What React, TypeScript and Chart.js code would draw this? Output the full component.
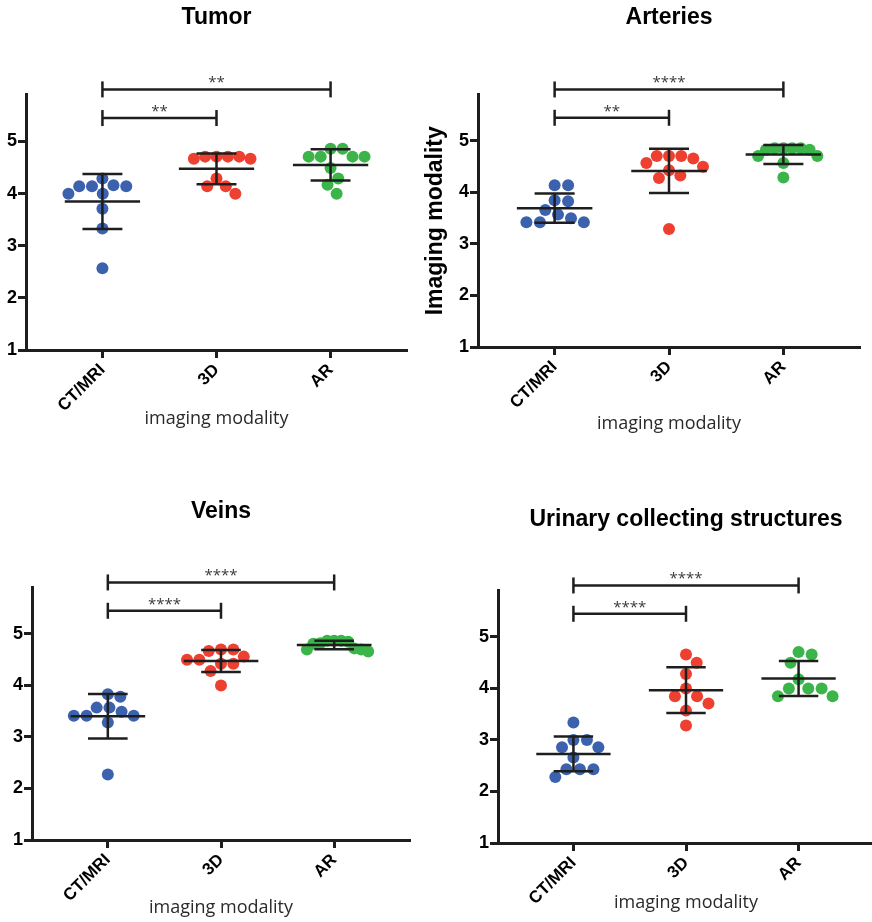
import React, { useEffect, useRef } from 'react';
import { Chart, registerables } from 'chart.js';

Chart.register(...registerables);

// ---------- data ----------
const categories = ['CT/MRI', '3D', 'AR'];
const yTickValues = [1, 2, 3, 4, 5];
const xAxisTitle = 'imaging modality';
const yAxisTitle = 'Imaging modality';

const tumorCT = [4.14, 4.0, 4.16, 4.14, 4.29, 4.0, 4.14, 3.71, 3.33, 2.57];
const tumor3D = [4.71, 4.71, 4.67, 4.67, 4.71, 4.71, 4.29, 4.14, 4.14, 4.0];
const tumorAR = [4.71, 4.71, 4.86, 4.86, 4.71, 4.71, 4.49, 4.29, 4.17, 4.0];

const arteriesCT = [4.14, 4.14, 3.85, 3.83, 3.57, 3.66, 3.5, 3.42, 3.42, 3.42];
const arteries3D = [4.71, 4.66, 4.71, 4.71, 4.5, 4.57, 4.33, 4.28, 4.43, 3.29];
const arteriesAR = [4.86, 4.83, 4.86, 4.71, 4.86, 4.57, 4.83, 4.86, 4.29, 4.71];

const veinsCT = [3.57, 3.41, 3.41, 3.78, 3.83, 3.28, 3.41, 3.49, 3.57, 2.27];
const veins3D = [4.67, 4.7, 4.7, 4.5, 4.42, 4.42, 4.5, 4.56, 4.28, 4.0];
const veinsAR = [4.85, 4.81, 4.87, 4.7, 4.66, 4.7, 4.87, 4.72, 4.82, 4.87];

const urinaryCT = [3.34, 3.0, 3.0, 2.86, 2.86, 2.66, 2.43, 2.43, 2.43, 2.28];
const urinary3D = [4.66, 4.5, 4.28, 4.0, 3.85, 3.85, 3.71, 3.57, 3.28];
const urinaryAR = [4.71, 4.66, 4.5, 4.18, 4.0, 4.0, 4.0, 3.85, 3.85];

// significance comparisons: [from category, to category, label]
const tumorSig: [number, number, string][] = [[0, 1, '**'], [0, 2, '**']];
const arteriesSig: [number, number, string][] = [[0, 1, '**'], [0, 2, '****']];
const veinsSig: [number, number, string][] = [[0, 1, '****'], [0, 2, '****']];
const urinarySig: [number, number, string][] = [[0, 1, '****'], [0, 2, '****']];

// ---------- styles ----------
const groupColors = ['#3d62ad', '#ee4030', '#3bb54a'];
const ink = '#1e1e1e';
const Y_MIN = 1;
const Y_MAX = 5.9;
const X_MIN = -0.67;
const X_MAX = 2.67;
const bracketLevels = [5.45, 6.0];

type PanelCfg = {
  title: string;
  groups: number[][];
  sig: [number, number, string][];
  yTitle: boolean;
  left: number; top: number; width: number; height: number;
  padRight: number; yWidth: number; xHeight: number;
  titlePad: { top: number; bottom: number };
  xTitlePadBottom: number;
};

const panels: PanelCfg[] = [
  { title: 'Tumor', groups: [tumorCT, tumor3D, tumorAR], sig: tumorSig, yTitle: false,
    left: 0, top: 0, width: 436, height: 440, padRight: 29, yWidth: 26, xHeight: 90,
    titlePad: { top: 4, bottom: 63 }, xTitlePadBottom: 10 },
  { title: 'Arteries', groups: [arteriesCT, arteries3D, arteriesAR], sig: arteriesSig, yTitle: true,
    left: 420, top: 0, width: 452, height: 446, padRight: 12, yWidth: 58, xHeight: 99,
    titlePad: { top: 4, bottom: 63 }, xTitlePadBottom: 11 },
  { title: 'Veins', groups: [veinsCT, veins3D, veinsAR], sig: veinsSig, yTitle: false,
    left: 0, top: 480, width: 436, height: 442, padRight: 26, yWidth: 32, xHeight: 82,
    titlePad: { top: 18, bottom: 62 }, xTitlePadBottom: 3 },
  { title: 'Urinary collecting structures', groups: [urinaryCT, urinary3D, urinaryAR], sig: urinarySig, yTitle: false,
    left: 440, top: 480, width: 440, height: 442, padRight: 2, yWidth: 58, xHeight: 79,
    titlePad: { top: 26, bottom: 57 }, xTitlePadBottom: 8 },
];

const mean = (a: number[]) => a.reduce((s, v) => s + v, 0) / a.length;
const sd = (a: number[]) => {
  const m = mean(a);
  return Math.sqrt(a.reduce((s, v) => s + (v - m) * (v - m), 0) / (a.length - 1));
};

// beeswarm layout in pixel space; returns pixel offsets
function swarm(values: number[], pxPerY: number, diameter: number, maxHalf: number): number[] {
  const order = values.map((_, i) => i).sort((a, b) => values[b] - values[a]);
  const placed: { x: number; y: number }[] = [];
  const offs = new Array(values.length).fill(0);
  const d2 = diameter * diameter;
  for (const i of order) {
    const y = values[i] * pxPerY;
    const cands = [0];
    for (const p of placed) {
      const dy = Math.abs(p.y - y);
      if (dy < diameter) {
        const dx = Math.sqrt(d2 - dy * dy);
        cands.push(p.x + dx, p.x - dx);
      }
    }
    cands.sort((a, b) => Math.abs(a) - Math.abs(b) || b - a);
    let chosen = 0;
    for (const c of cands) {
      if (placed.every((p) => (p.x - c) ** 2 + (p.y - y) ** 2 >= d2 - 1e-6)) { chosen = c; break; }
    }
    placed.push({ x: chosen, y });
    offs[i] = chosen;
  }
  const m = Math.max(...offs.map(Math.abs));
  const k = m > maxHalf ? maxHalf / m : 1;
  return offs.map((o) => o * k);
}

const statsPlugin = {
  id: 'stats',
  afterDatasetsDraw(chart: any, _args: any, opts: any) {
    const { ctx } = chart;
    const xs = chart.scales.x;
    const ys = chart.scales.y;
    const groups: number[][] = opts.groups || [];
    const sig: [number, number, string][] = opts.sig || [];
    const line = (x1: number, y1: number, x2: number, y2: number) => {
      ctx.beginPath(); ctx.moveTo(x1, y1); ctx.lineTo(x2, y2); ctx.stroke();
    };
    ctx.save();
    ctx.strokeStyle = ink;
    ctx.lineWidth = 2.5;
    groups.forEach((vals, i) => {
      const m = mean(vals);
      const s = sd(vals);
      const xc = xs.getPixelForValue(i);
      const xl = xs.getPixelForValue(i - 0.33);
      const xr = xs.getPixelForValue(i + 0.33);
      const cl = xs.getPixelForValue(i - 0.175);
      const cr = xs.getPixelForValue(i + 0.175);
      const ym = ys.getPixelForValue(m);
      const yt = ys.getPixelForValue(m + s);
      const yb = ys.getPixelForValue(m - s);
      line(xl, ym, xr, ym);
      line(xc, yt, xc, yb);
      line(cl, yt, cr, yt);
      line(cl, yb, cr, yb);
    });
    ctx.fillStyle = '#3a3a3a';
    ctx.font = '15px "Open Sans"';
    ctx.textAlign = 'center';
    ctx.textBaseline = 'alphabetic';
    sig.forEach(([a, b, label], k) => {
      const yy = ys.getPixelForValue(bracketLevels[k] ?? bracketLevels[bracketLevels.length - 1]);
      const xa = xs.getPixelForValue(a);
      const xb = xs.getPixelForValue(b);
      line(xa, yy, xb, yy);
      line(xa, yy - 8, xa, yy + 8);
      line(xb, yy - 8, xb, yy + 8);
      ctx.fillText(label, (xa + xb) / 2, yy - 2);
    });
    ctx.restore();
  },
};

const tickFont = { family: '"Liberation Sans", Arial, sans-serif', size: 17, weight: 'bold' as const };

function Panel({ cfg }: { cfg: PanelCfg }) {
  const ref = useRef<HTMLCanvasElement>(null);
  useEffect(() => {
    const canvas = ref.current;
    if (!canvas) return;
    const gridCommon = {
      display: true,
      drawOnChartArea: false,
      drawTicks: true,
      tickLength: 8,
      tickWidth: 3,
      tickColor: ink,
    };
    const borderCommon = { display: true, width: 3, color: ink };
    const chart = new Chart(canvas, {
      type: 'scatter',
      data: {
        datasets: cfg.groups.map((vals, gi) => ({
          label: categories[gi],
          data: vals.map((v) => ({ x: gi, y: v })),
          backgroundColor: groupColors[gi],
          borderColor: groupColors[gi],
          borderWidth: 0,
          pointRadius: 6,
          pointHoverRadius: 6,
        })),
      },
      options: {
        animation: false,
        responsive: false,
        devicePixelRatio: 1,
        events: [],
        layout: { padding: { left: 0, right: cfg.padRight, top: 0, bottom: 0 } },
        plugins: {
          legend: { display: false },
          tooltip: { enabled: false },
          title: {
            display: true,
            text: cfg.title,
            fullSize: false,
            color: '#000',
            font: { family: '"Liberation Sans", Arial, sans-serif', size: 23, weight: 'bold' },
            padding: cfg.titlePad,
          },
          stats: { groups: cfg.groups, sig: cfg.sig },
        } as any,
        scales: {
          x: {
            type: 'linear',
            min: X_MIN,
            max: X_MAX,
            afterBuildTicks: (s: any) => { s.ticks = categories.map((_, i) => ({ value: i })); },
            afterFit: (s: any) => { s.height = cfg.xHeight; },
            ticks: {
              callback: (v: any) => categories[v as number] ?? '',
              minRotation: 45,
              maxRotation: 45,
              autoSkip: false,
              padding: 2,
              color: '#000',
              font: tickFont,
            },
            grid: gridCommon,
            border: borderCommon,
            title: {
              display: true,
              text: xAxisTitle,
              color: '#2a2a2a',
              font: { family: '"Open Sans", sans-serif', size: 18 },
              padding: { top: 0, bottom: cfg.xTitlePadBottom },
            },
          },
          y: {
            type: 'linear',
            min: Y_MIN,
            max: Y_MAX,
            afterBuildTicks: (s: any) => { s.ticks = yTickValues.map((v) => ({ value: v })); },
            afterFit: (s: any) => { s.width = cfg.yWidth; },
            ticks: { color: '#000', font: { ...tickFont, size: 18 }, padding: 1 },
            grid: gridCommon,
            border: borderCommon,
            title: {
              display: cfg.yTitle,
              text: yAxisTitle,
              color: '#000',
              font: { family: '"Liberation Sans", Arial, sans-serif', size: 23, weight: 'bold' },
              padding: { top: 2, bottom: 0 },
            },
          },
        } as any,
      },
      plugins: [statsPlugin],
    } as any);

    // second pass: spread points of each group into a swarm using the scales
    const xs: any = chart.scales.x;
    const ys: any = chart.scales.y;
    const pxX = xs.getPixelForValue(1) - xs.getPixelForValue(0);
    const pxY = ys.getPixelForValue(0) - ys.getPixelForValue(1);
    cfg.groups.forEach((vals, gi) => {
      const offs = swarm(vals, pxY, 13.5, 34);
      (chart.data.datasets[gi] as any).data = vals.map((v, i) => ({ x: gi + offs[i] / pxX, y: v }));
    });
    chart.update();
    return () => chart.destroy();
  }, [cfg]);
  return (
    <canvas
      ref={ref}
      width={cfg.width}
      height={cfg.height}
      style={{ position: 'absolute', left: cfg.left, top: cfg.top, width: cfg.width, height: cfg.height }}
    />
  );
}

export default function App() {
  return (
    <div style={{ position: 'absolute', left: 0, top: 0, width: 872, height: 922, overflow: 'hidden', background: '#fff' }}>
      {panels.map((p) => <Panel key={p.title} cfg={p} />)}
    </div>
  );
}
